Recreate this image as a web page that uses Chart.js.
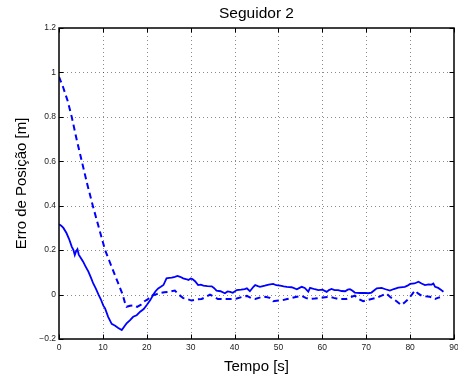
<!DOCTYPE html>
<html>
<head>
<meta charset="utf-8">
<script src="https://cdn.jsdelivr.net/npm/chart.js@4.4.0/dist/chart.umd.min.js"></script>
<style>
  body { margin: 0; background: #fff; }
  canvas { display: block; }
</style>
</head>
<body>
<canvas id="myChart" width="458" height="378"></canvas>
<script>
  // Seguidor 2 - erro de posicao ao longo do tempo
  const tempoTracejado = [0, 1, 2, 2.9, 4, 5.2, 6.4, 7.7, 9.1, 10.5, 11.5, 12.5, 13.5, 14.5, 15, 15.4,
    16.2, 17, 17.8, 18.7, 19.5, 20.3, 21, 22, 23, 24, 25, 26.4, 27.3, 28.3, 29.2, 30.2, 31.3, 32.5,
    33.5, 34.4, 35.3, 36.2, 37.5, 39, 40.5, 41.8, 42.8, 43.7, 44.7, 46, 47, 48, 48.8, 50, 51, 52,
    53, 54.2, 55.3, 56.2, 57.2, 58.3, 59.5, 60.6, 61.7, 62.6, 63.6, 64.5, 65.5, 66.7, 67.4, 68.3,
    69.3, 70.2, 71.2, 72.3, 73.5, 74.6, 75.4, 76.2, 76.9, 78, 78.8, 79.6, 80.4, 81.1, 81.8, 82.6,
    83.5, 84.5, 85.1, 85.7, 86.3, 86.8];
  const erroTracejado = [0.98, 0.93, 0.87, 0.8, 0.7, 0.6, 0.5, 0.4, 0.3, 0.2, 0.15, 0.1, 0.05, 0, -0.035, -0.055,
    -0.05, -0.048, -0.055, -0.045, -0.03, -0.02, -0.005, 0, 0.007, 0.01, 0.012, 0.018, 0, -0.016, -0.02, -0.027, -0.022, -0.02,
    -0.01, 0, -0.01, -0.02, -0.02, -0.02, -0.018, -0.01, -0.006, -0.015, -0.02, -0.012, -0.01, -0.015, -0.03, -0.027, -0.025, -0.02,
    -0.015, -0.01, -0.006, -0.015, -0.02, -0.018, -0.015, -0.012, -0.01, -0.015, -0.02, -0.02, -0.02, -0.01, -0.005, -0.02,
    -0.03, -0.025, -0.02, -0.015, -0.005, 0.005, -0.01, -0.02, -0.03, -0.047, -0.035, -0.02, 0, 0.018, 0.005, -0.005,
    -0.008, -0.01, -0.015, -0.02, -0.015, -0.012];

  const tempoContinuo = [0, 0.5, 1, 1.7, 2.3, 2.9, 3.3, 3.6, 3.9, 4.2, 4.5, 4.8, 5.5, 6.1, 6.7, 7.3, 7.8, 8.4, 9,
    9.5, 10.1, 10.5, 11.2, 12, 12.8, 13.5, 14.3, 15, 15.4, 16.2, 16.9, 17.7, 18.5, 19.3, 20, 20.8, 21.5, 22,
    22.6, 23.2, 23.8, 24.5, 25.1, 25.7, 26.4, 27, 27.6, 28.3, 28.9, 29.5, 30, 30.4, 31, 31.7, 32.3, 32.9,
    33.8, 34.8, 35.3, 35.9, 36.8, 37.8, 38.4, 39, 39.6, 40.5, 41.5, 42.3, 42.8, 43.5, 44.3, 44.7, 45.3,
    45.8, 46.9, 47.8, 48.8, 49.5, 50.4, 51.2, 51.9, 53, 54.2, 54.8, 55.3, 56, 56.8, 57.2, 57.6, 58.3, 59.1,
    60, 61, 61.5, 62.1, 62.8, 63.6, 64.4, 65.2, 65.8, 66.3, 66.8, 67.4, 68.5, 69.7, 70.5, 71.2, 72.4, 73.5,
    74.4, 75.4, 76.3, 77.3, 78.8, 79.4, 80, 81, 81.9, 82.6, 83.4, 84.2, 84.9, 85.3, 85.7, 86.4, 87, 87.6];
  const erroContinuo = [0.317, 0.31, 0.3, 0.277, 0.25, 0.216, 0.2, 0.178, 0.195, 0.204, 0.18, 0.17, 0.148, 0.125, 0.103, 0.075, 0.05, 0.027, 0,
    -0.02, -0.05, -0.062, -0.1, -0.132, -0.14, -0.15, -0.16, -0.14, -0.13, -0.115, -0.1, -0.093, -0.077, -0.065, -0.047, -0.025, 0, 0.015,
    0.028, 0.035, 0.043, 0.073, 0.075, 0.076, 0.08, 0.084, 0.08, 0.073, 0.07, 0.066, 0.072, 0.07, 0.06, 0.043, 0.045, 0.04,
    0.038, 0.037, 0.03, 0.018, 0.015, 0.006, 0.014, 0.012, 0.008, 0.02, 0.022, 0.025, 0.028, 0.015, 0.035, 0.043, 0.038,
    0.035, 0.04, 0.045, 0.048, 0.042, 0.04, 0.037, 0.035, 0.033, 0.024, 0.03, 0.035, 0.03, 0.013, 0.03, 0.028, 0.024, 0.02,
    0.022, 0.012, 0.02, 0.025, 0.02, 0.02, 0.016, 0.015, 0.022, 0.024, 0.018, 0.009, 0.007, 0.008, 0.006, 0.009, 0.028, 0.03,
    0.024, 0.018, 0.025, 0.031, 0.035, 0.04, 0.048, 0.05, 0.058, 0.05, 0.043, 0.046, 0.045, 0.05, 0.035, 0.03, 0.022, 0.013];

  const xTicks = [0, 10, 20, 30, 40, 50, 60, 70, 80, 90];
  const yTicks = [-0.2, 0, 0.2, 0.4, 0.6, 0.8, 1, 1.2];
  const yTickLabels = ['\u22120.2', '0', '0.2', '0.4', '0.6', '0.8', '1', '1.2'];

  const fonte = 'Liberation Sans, Arial, Helvetica, sans-serif';
  const azul = '#0000ff';

  // grade pontilhada, caixa dos eixos, marcas para dentro e titulo (estilo matlab)
  const moldura = {
    id: 'moldura',
    beforeDatasetsDraw(chart) {
      const {ctx, chartArea: a, scales: {x, y}} = chart;
      ctx.save();
      ctx.strokeStyle = 'rgba(0,0,0,0.45)';
      ctx.lineWidth = 1;
      ctx.setLineDash([1, 3]);
      xTicks.slice(1, -1).forEach(v => {
        const px = Math.round(x.getPixelForValue(v)) + 0.5;
        ctx.beginPath(); ctx.moveTo(px, a.top); ctx.lineTo(px, a.bottom); ctx.stroke();
      });
      yTicks.slice(1, -1).forEach(v => {
        const py = Math.round(y.getPixelForValue(v)) + 0.5;
        ctx.beginPath(); ctx.moveTo(a.left, py); ctx.lineTo(a.right, py); ctx.stroke();
      });
      ctx.restore();
    },
    afterDraw(chart) {
      const {ctx, chartArea: a, scales: {x, y}} = chart;
      const tl = 4.5;
      ctx.save();
      ctx.strokeStyle = '#000';
      ctx.lineWidth = 1;
      xTicks.forEach(v => {
        const px = Math.round(x.getPixelForValue(v)) + 0.5;
        ctx.beginPath();
        ctx.moveTo(px, a.bottom); ctx.lineTo(px, a.bottom - tl);
        ctx.moveTo(px, a.top); ctx.lineTo(px, a.top + tl);
        ctx.stroke();
      });
      yTicks.forEach(v => {
        const py = Math.round(y.getPixelForValue(v)) + 0.5;
        ctx.beginPath();
        ctx.moveTo(a.left, py); ctx.lineTo(a.left + tl, py);
        ctx.moveTo(a.right, py); ctx.lineTo(a.right - tl, py);
        ctx.stroke();
      });
      ctx.lineWidth = 1.5;
      ctx.strokeRect(a.left, a.top, a.right - a.left, a.bottom - a.top);

      ctx.fillStyle = '#000';
      ctx.font = '15.5px ' + fonte;
      ctx.textAlign = 'center';
      ctx.textBaseline = 'alphabetic';
      ctx.fillText('Seguidor 2', (a.left + a.right) / 2, 18);
      ctx.restore();
    }
  };

  const data = {
    datasets: [{
      label: 'tracejado',
      data: tempoTracejado.map((t, i) => ({x: t, y: erroTracejado[i]})),
      borderColor: azul,
      borderWidth: 2,
      borderDash: [6, 4]
    }, {
      label: 'continuo',
      data: tempoContinuo.map((t, i) => ({x: t, y: erroContinuo[i]})),
      borderColor: azul,
      borderWidth: 1.8
    }]
  };

  const config = {
    type: 'line',
    data,
    options: {
      responsive: false,
      animation: false,
      layout: { padding: { top: 28, right: 4, left: 0, bottom: 0 } },
      plugins: { legend: { display: false }, tooltip: { enabled: false } },
      elements: { point: { radius: 0 }, line: { tension: 0 } },
      scales: {
        x: {
          type: 'linear',
          min: 0, max: 90,
          grid: { display: false, drawTicks: false, tickLength: 0 },
          border: { display: false },
          afterBuildTicks: s => { s.ticks = xTicks.map(v => ({value: v})); },
          afterFit: s => { s.height = 39; s.paddingLeft = 0; s.paddingRight = 0; },
          ticks: {
            padding: 4, color: '#222', autoSkip: false, maxRotation: 0,
            font: { family: fonte, size: 8.5 },
            callback: v => String(v)
          },
          title: {
            display: true, text: 'Tempo [s]', color: '#000',
            font: { family: fonte, size: 15 },
            padding: { top: 0, bottom: 2.5 }
          }
        },
        y: {
          type: 'linear',
          min: -0.2, max: 1.2,
          grid: { display: false, drawTicks: false, tickLength: 0 },
          border: { display: false },
          afterBuildTicks: s => { s.ticks = yTicks.map(v => ({value: v})); },
          afterFit: s => { s.width = 59; s.paddingTop = 0; s.paddingBottom = 0; },
          ticks: {
            padding: 3, color: '#222', autoSkip: false,
            font: { family: fonte, size: 8.5 },
            callback: (v, i) => yTickLabels[i]
          },
          title: {
            display: true, text: 'Erro de Posição [m]', color: '#000',
            font: { family: fonte, size: 15 },
            padding: { top: 12.8, bottom: 0 }
          }
        }
      }
    },
    plugins: [moldura]
  };

  const myChart = new Chart(document.getElementById('myChart'), config);
</script>
</body>
</html>
